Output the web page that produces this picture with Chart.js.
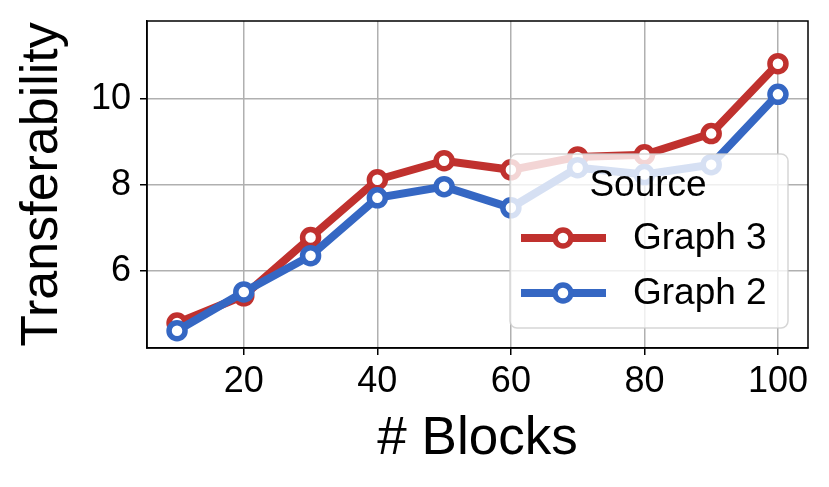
<!DOCTYPE html>
<html>
<head>
<meta charset="utf-8">
<script src="https://cdn.jsdelivr.net/npm/chart.js@4"></script>
<style>
  html, body { margin: 0; padding: 0; background: #fff; }
  #wrap { width: 829px; height: 487px; }
</style>
</head>
<body>
<div id="wrap"><canvas id="chart" width="829" height="487"></canvas></div>
<script>
// data
const blocks = [10, 20, 30, 40, 50, 60, 70, 80, 90, 100];
const graph3 = [4.80, 5.43, 6.78, 8.12, 8.56, 8.35, 8.65, 8.70, 9.19, 10.81];
const graph2 = [4.62, 5.52, 6.36, 7.70, 7.96, 7.47, 8.40, 8.24, 8.47, 10.10];
const xTicks = [20, 40, 60, 80, 100];
const yTicks = [6, 8, 10];
const legendTitle = 'Source';

const RED = '#c0312e';
const BLUE = '#3567c3';
const FONT = "'Liberation Sans', Arial, Helvetica, sans-serif";

function toPoints(ys) {
    return blocks.map((x, i) => ({ x: x, y: ys[i] }));
}

function seriesStyle(color) {
    return {
        borderColor: color,
        backgroundColor: '#ffffff',
        borderWidth: 8,
        pointRadius: 8,
        pointBorderWidth: 5.5,
        pointBorderColor: color,
        pointBackgroundColor: '#ffffff',
        tension: 0,
    };
}

// frame on all four sides
const framePlugin = {
    id: 'frame',
    afterDatasetsDraw(chart) {
        const a = chart.chartArea;
        const ctx = chart.ctx;
        ctx.save();
        ctx.strokeStyle = '#000';
        ctx.lineWidth = 1.5;
        ctx.strokeRect(a.left, a.top, a.right - a.left, a.bottom - a.top);
        ctx.restore();
    }
};

// matplotlib-style legend drawn over the lines
const boxLegend = {
    id: 'boxLegend',
    afterDatasetsDraw(chart) {
        const ctx = chart.ctx;
        const x0 = 510, y0 = 154, w = 278, h = 174, r = 7;
        ctx.save();
        ctx.beginPath();
        ctx.roundRect(x0, y0, w, h, r);
        ctx.fillStyle = 'rgba(255,255,255,0.8)';
        ctx.fill();
        ctx.strokeStyle = 'rgba(204,204,204,0.8)';
        ctx.lineWidth = 1.5;
        ctx.stroke();

        ctx.fillStyle = '#000';
        ctx.font = '37px ' + FONT;
        ctx.textAlign = 'center';
        ctx.textBaseline = 'middle';
        ctx.fillText(legendTitle, 648, 186);

        const rows = [238, 293];
        chart.data.datasets.forEach((ds, i) => {
            const y = rows[i];
            ctx.strokeStyle = ds.borderColor;
            ctx.lineWidth = ds.borderWidth;
            ctx.beginPath();
            ctx.moveTo(521, y);
            ctx.lineTo(606, y);
            ctx.stroke();
            ctx.beginPath();
            ctx.arc(563, y, ds.pointRadius, 0, Math.PI * 2);
            ctx.fillStyle = '#fff';
            ctx.fill();
            ctx.lineWidth = ds.pointBorderWidth;
            ctx.stroke();
            ctx.fillStyle = '#000';
            ctx.textAlign = 'left';
            ctx.fillText(ds.label, 633, y + 1);
        });
        ctx.restore();
    }
};

new Chart(document.getElementById('chart'), {
    type: 'line',
    data: {
        datasets: [
            Object.assign({ label: 'Graph 3', data: toPoints(graph3), order: 1 }, seriesStyle(RED)),
            Object.assign({ label: 'Graph 2', data: toPoints(graph2), order: 0 }, seriesStyle(BLUE)),
        ],
    },
    options: {
        responsive: false,
        animation: false,
        layout: { padding: { left: 0, right: 21, top: 21, bottom: 0 } },
        plugins: {
            legend: { display: false },
            tooltip: { enabled: false },
        },
        scales: {
            x: {
                type: 'linear',
                min: 5.5,
                max: 104.5,
                afterBuildTicks: (s) => { s.ticks = xTicks.map(v => ({ value: v })); },
                afterFit: (s) => { s.height = 139; s.paddingLeft = 0; s.paddingRight = 0; },
                ticks: {
                    color: '#000',
                    font: { family: FONT, size: 36 },
                    padding: 5,
                    maxRotation: 0,
                    autoSkip: false,
                },
                grid: { color: '#b0b0b0', lineWidth: 1.5, tickColor: '#000', tickLength: 7, tickWidth: 1.5 },
                border: { color: '#000', width: 1.5 },
                title: {
                    display: true,
                    text: '# Blocks',
                    color: '#000',
                    font: { family: FONT, size: 53, lineHeight: 1 },
                    padding: { top: 0, bottom: 21 },
                },
            },
            y: {
                type: 'linear',
                min: 4.22,
                max: 11.8,
                afterBuildTicks: (s) => { s.ticks = yTicks.map(v => ({ value: v })); },
                afterFit: (s) => { s.width = 147; s.paddingTop = 0; s.paddingBottom = 0; },
                ticks: {
                    color: '#000',
                    font: { family: FONT, size: 36 },
                    padding: 9,
                },
                grid: { color: '#b0b0b0', lineWidth: 1.5, tickColor: '#000', tickLength: 7, tickWidth: 1.5 },
                border: { color: '#000', width: 1.5 },
                title: {
                    display: true,
                    text: 'Transferability',
                    color: '#000',
                    font: { family: FONT, size: 52, lineHeight: 1 },
                    padding: { top: 17, bottom: 0 },
                },
            },
        },
    },
    plugins: [framePlugin, boxLegend],
});
</script>
</body>
</html>
